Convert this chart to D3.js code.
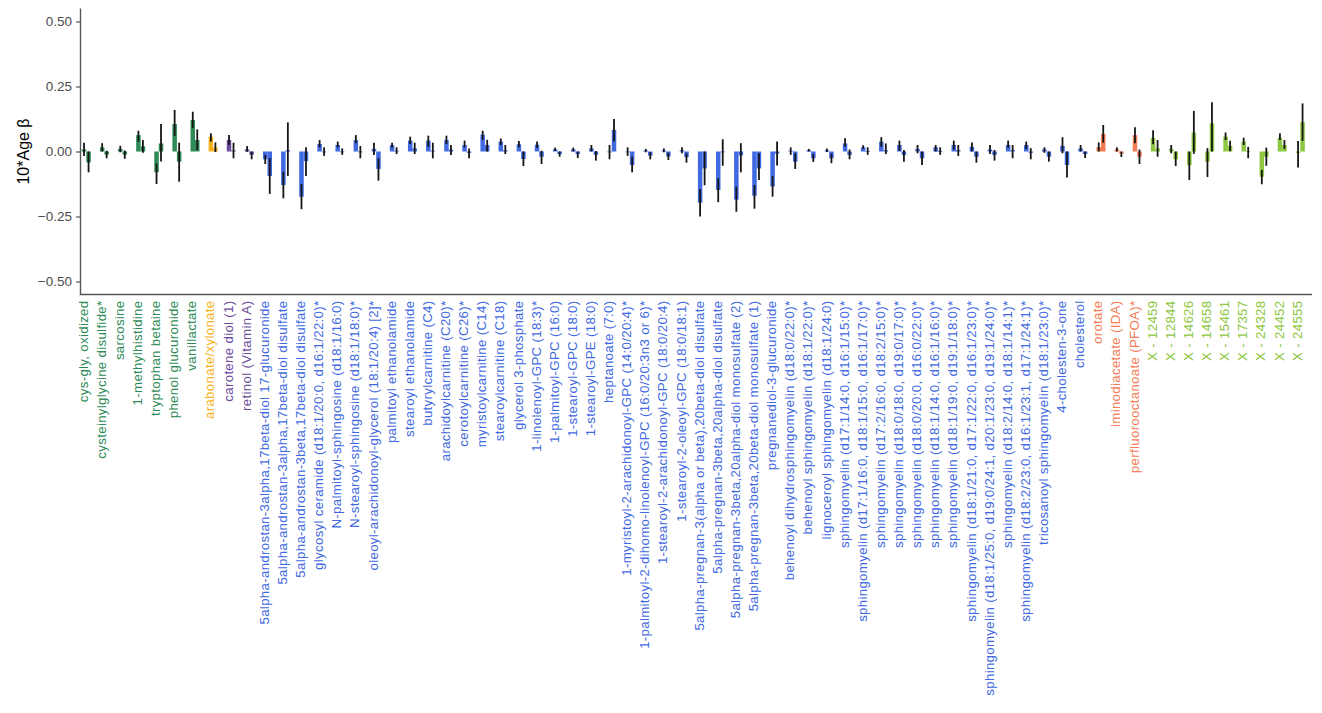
<!DOCTYPE html>
<html>
<head>
<meta charset="utf-8">
<script src="https://cdn.jsdelivr.net/npm/d3@7"></script>
<style>
  html, body { margin: 0; padding: 0; background: #fff; }
  svg { display: block; font-family: "Liberation Sans", Arial, Helvetica, sans-serif; }
</style>
</head>
<body>
<svg id="chart" width="1322" height="713"></svg>
<script>
const categories = [
  "cys-gly, oxidized","cysteinylglycine disulfide*","sarcosine","1-methylhistidine","tryptophan betaine",
  "phenol glucuronide","vanillactate","arabonate/xylonate","carotene diol (1)","retinol (Vitamin A)",
  "5alpha-androstan-3alpha,17beta-diol 17-glucuronide","5alpha-androstan-3alpha,17beta-diol disulfate",
  "5alpha-androstan-3beta,17beta-diol disulfate","glycosyl ceramide (d18:1/20:0, d16:1/22:0)*",
  "N-palmitoyl-sphingosine (d18:1/16:0)","N-stearoyl-sphingosine (d18:1/18:0)*",
  "oleoyl-arachidonoyl-glycerol (18:1/20:4) [2]*","palmitoyl ethanolamide","stearoyl ethanolamide",
  "butyrylcarnitine (C4)","arachidoylcarnitine (C20)*","cerotoylcarnitine (C26)*","myristoylcarnitine (C14)",
  "stearoylcarnitine (C18)","glycerol 3-phosphate","1-linolenoyl-GPC (18:3)*","1-palmitoyl-GPC (16:0)",
  "1-stearoyl-GPC (18:0)","1-stearoyl-GPE (18:0)","heptanoate (7:0)",
  "1-myristoyl-2-arachidonoyl-GPC (14:0/20:4)*","1-palmitoyl-2-dihomo-linolenoyl-GPC (16:0/20:3n3 or 6)*",
  "1-stearoyl-2-arachidonoyl-GPC (18:0/20:4)","1-stearoyl-2-oleoyl-GPC (18:0/18:1)",
  "5alpha-pregnan-3(alpha or beta),20beta-diol disulfate","5alpha-pregnan-3beta,20alpha-diol disulfate",
  "5alpha-pregnan-3beta,20alpha-diol monosulfate (2)","5alpha-pregnan-3beta,20beta-diol monosulfate (1)",
  "pregnanediol-3-glucuronide","behenoyl dihydrosphingomyelin (d18:0/22:0)*",
  "behenoyl sphingomyelin (d18:1/22:0)*","lignoceroyl sphingomyelin (d18:1/24:0)",
  "sphingomyelin (d17:1/14:0, d16:1/15:0)*","sphingomyelin (d17:1/16:0, d18:1/15:0, d16:1/17:0)*",
  "sphingomyelin (d17:2/16:0, d18:2/15:0)*","sphingomyelin (d18:0/18:0, d19:0/17:0)*",
  "sphingomyelin (d18:0/20:0, d16:0/22:0)*","sphingomyelin (d18:1/14:0, d16:1/16:0)*",
  "sphingomyelin (d18:1/19:0, d19:1/18:0)*","sphingomyelin (d18:1/21:0, d17:1/22:0, d16:1/23:0)*",
  "sphingomyelin (d18:1/25:0, d19:0/24:1, d20:1/23:0, d19:1/24:0)*","sphingomyelin (d18:2/14:0, d18:1/14:1)*",
  "sphingomyelin (d18:2/23:0, d16:1/23:1, d17:1/24:1)*","tricosanoyl sphingomyelin (d18:1/23:0)*",
  "4-cholesten-3-one","cholesterol","orotate","iminodiacetate (IDA)","perfluorooctanoate (PFOA)*",
  "X - 12459","X - 12844","X - 14626","X - 14658","X - 15461","X - 17357","X - 24328","X - 24452","X - 24555"
];

const groups = [
  "amino","amino","amino","amino","amino","amino","amino","carb","cofactor","cofactor",
  "lipid","lipid","lipid","lipid","lipid","lipid","lipid","lipid","lipid","lipid",
  "lipid","lipid","lipid","lipid","lipid","lipid","lipid","lipid","lipid","lipid",
  "lipid","lipid","lipid","lipid","lipid","lipid","lipid","lipid","lipid","lipid",
  "lipid","lipid","lipid","lipid","lipid","lipid","lipid","lipid","lipid","lipid",
  "lipid","lipid","lipid","lipid","lipid","lipid","xeno","xeno","xeno",
  "unknown","unknown","unknown","unknown","unknown","unknown","unknown","unknown","unknown"
];

const groupNames = ["amino","carb","cofactor","lipid","xeno","unknown"];
const groupColors = ["#2E8B57","#F7B21B","#6A4C9C","#4169E1","#F47C55","#8DC641"];

// series 1 (left bar) and series 2 (right bar): estimate and error bar limits
const beta1 = [0.008,0.016,0.010,0.063,-0.080,0.106,0.121,0.057,0.044,0.008,
  -0.030,-0.129,-0.174,0.029,0.025,0.044,0.010,0.025,0.042,0.042,
  0.044,0.025,0.065,0.038,0.028,0.026,0.008,0.008,0.012,-0.003,
  0.000,0.004,0.004,0.005,-0.197,-0.148,-0.185,-0.170,-0.134,0.003,
  0.005,0.005,0.031,0.016,0.038,0.025,0.010,0.016,0.025,0.018,
  0.008,0.025,0.025,0.008,0.022,0.012,0.017,0.008,0.063,
  0.052,0.010,-0.053,-0.039,0.057,0.038,-0.097,0.053,-0.005];
const lo1 = [-0.017,0.000,-0.003,0.038,-0.125,0.060,0.090,0.038,0.025,-0.001,
  -0.048,-0.180,-0.222,0.016,0.016,0.032,-0.013,0.014,0.029,0.018,
  0.029,0.016,0.045,0.025,0.016,0.014,0.002,0.000,0.000,-0.030,
  -0.017,-0.003,-0.003,-0.007,-0.250,-0.195,-0.232,-0.220,-0.174,-0.013,
  0.000,-0.002,0.018,0.010,0.018,0.003,-0.007,0.000,0.008,0.000,
  -0.010,0.014,0.010,-0.005,-0.007,0.000,0.000,0.000,0.032,
  0.028,-0.007,-0.110,-0.098,0.044,0.025,-0.126,0.044,-0.062];
const hi1 = [0.034,0.032,0.022,0.080,-0.045,0.160,0.153,0.070,0.063,0.021,
  -0.013,-0.078,-0.125,0.044,0.038,0.063,0.034,0.034,0.057,0.061,
  0.061,0.042,0.080,0.050,0.040,0.038,0.015,0.015,0.025,0.025,
  0.016,0.010,0.012,0.016,-0.145,-0.103,-0.135,-0.129,-0.095,0.016,
  0.010,0.012,0.051,0.024,0.055,0.042,0.025,0.025,0.042,0.035,
  0.025,0.042,0.038,0.016,0.055,0.025,0.035,0.016,0.093,
  0.082,0.025,0.000,0.013,0.073,0.053,-0.071,0.070,0.040];
const beta2 = [-0.042,-0.012,-0.012,0.020,0.031,-0.039,0.044,0.015,0.004,-0.012,
  -0.094,0.005,-0.037,0.000,-0.001,-0.003,-0.067,0.003,0.012,0.003,
  0.007,-0.005,0.025,0.005,-0.029,-0.020,-0.010,-0.010,-0.013,0.083,
  -0.052,-0.016,-0.019,-0.022,-0.065,0.000,-0.015,-0.065,-0.008,-0.039,
  -0.026,-0.026,-0.013,0.002,0.005,-0.013,-0.026,0.002,0.005,-0.020,
  -0.013,0.005,-0.005,-0.020,-0.052,-0.010,0.068,-0.008,-0.020,
  0.012,-0.030,0.073,0.108,0.022,0.003,-0.020,0.025,0.113];
const lo2 = [-0.080,-0.026,-0.028,-0.005,-0.038,-0.116,0.006,-0.002,-0.026,-0.030,
  -0.163,-0.094,-0.094,-0.017,-0.013,-0.026,-0.112,-0.010,-0.010,-0.026,
  -0.013,-0.026,0.000,-0.010,-0.056,-0.048,-0.020,-0.025,-0.035,0.038,
  -0.080,-0.030,-0.033,-0.043,-0.130,-0.055,-0.080,-0.110,-0.054,-0.067,
  -0.040,-0.045,-0.030,-0.013,-0.010,-0.039,-0.052,-0.013,-0.017,-0.043,
  -0.035,-0.026,-0.030,-0.039,-0.100,-0.025,0.034,-0.021,-0.048,
  -0.020,-0.056,-0.009,0.000,0.001,-0.026,-0.055,0.010,0.041];
const hi2 = [0.000,0.003,0.004,0.044,0.106,0.034,0.085,0.035,0.034,0.000,
  -0.026,0.112,0.016,0.016,0.012,0.021,-0.026,0.016,0.034,0.034,
  0.025,0.012,0.045,0.025,0.000,0.003,0.000,0.000,0.002,0.125,
  -0.020,-0.003,-0.005,-0.007,0.000,0.047,0.032,-0.007,0.038,-0.007,
  -0.010,-0.008,0.008,0.016,0.031,0.006,0.000,0.016,0.025,0.000,
  0.006,0.025,0.013,0.000,0.000,0.000,0.102,0.000,0.008,
  0.044,0.000,0.156,0.189,0.041,0.018,0.015,0.044,0.185];

const yTicks = [0.50, 0.25, 0.00, -0.25, -0.50];
const series = ["s1","s2"];

const svg = d3.select("#chart");
const color = d3.scaleOrdinal().domain(groupNames).range(groupColors);

const x = d3.scalePoint().domain(categories).range([84, 1298]);
const xSub = d3.scaleBand().domain(series).range([-2.2, 6.8]);
const y = d3.scaleLinear().domain([-0.55, 0.55]).range([294.5, 8.5]);

const panelLeft = 80.5, panelRight = 1312;

const data = [];
categories.forEach((c, i) => {
  data.push({cat: c, s: "s1", v: beta1[i], lo: lo1[i], hi: hi1[i], g: groups[i]});
  data.push({cat: c, s: "s2", v: beta2[i], lo: lo2[i], hi: hi2[i], g: groups[i]});
});

// bars
svg.append("g").selectAll("rect").data(data).join("rect")
  .attr("x", d => x(d.cat) + xSub(d.s))
  .attr("width", xSub.bandwidth())
  .attr("y", d => Math.min(y(d.v), y(0)))
  .attr("height", d => Math.max(0.8, Math.abs(y(d.v) - y(0))))
  .attr("fill", d => color(d.g));

// error bars
svg.append("g").selectAll("line").data(data).join("line")
  .attr("x1", d => x(d.cat) + xSub(d.s) + xSub.bandwidth() / 2)
  .attr("x2", d => x(d.cat) + xSub(d.s) + xSub.bandwidth() / 2)
  .attr("y1", d => y(d.lo))
  .attr("y2", d => y(d.hi))
  .attr("stroke", "#151515")
  .attr("stroke-width", 1.8);

// y axis
const yAxis = d3.axisLeft(y).tickValues(yTicks).tickFormat(d3.format(".2f")).tickSize(4.5).tickPadding(4);
const gy = svg.append("g").attr("transform", `translate(${panelLeft},0)`).call(yAxis);
gy.select(".domain").remove();
gy.selectAll(".tick line").attr("stroke", "#333").attr("stroke-width", 1);
gy.selectAll(".tick text").attr("fill", "#4D4D4D").style("font-size", "13.5px")
  .style("font-family", "'Liberation Sans', Arial, sans-serif");
svg.append("line").attr("x1", panelLeft).attr("x2", panelLeft)
  .attr("y1", y(0.55)).attr("y2", y(-0.55) + 0.5)
  .attr("stroke", "#555").attr("stroke-width", 1.4);

// x axis line
svg.append("line").attr("x1", panelLeft - 0.7).attr("x2", panelRight)
  .attr("y1", y(-0.55)).attr("y2", y(-0.55))
  .attr("stroke", "#555").attr("stroke-width", 1.4);

// x labels
svg.append("g").selectAll("text").data(categories).join("text")
  .attr("transform", (d) => `translate(${x(d) - 1},${y(-0.55) + 6}) rotate(-90)`)
  .attr("text-anchor", "end")
  .attr("dy", "0.35em")
  .attr("fill", (d, i) => color(groups[i]))
  .style("font-size", "13.3px")
  .style("letter-spacing", "0.3px")
  .text(d => d);

// y title
svg.append("text")
  .attr("transform", `translate(29,${y(0)}) rotate(-90)`)
  .attr("text-anchor", "middle")
  .attr("fill", "#000")
  .style("font-size", "16px")
  .text("10*Age \u03B2");
</script>
</body>
</html>
